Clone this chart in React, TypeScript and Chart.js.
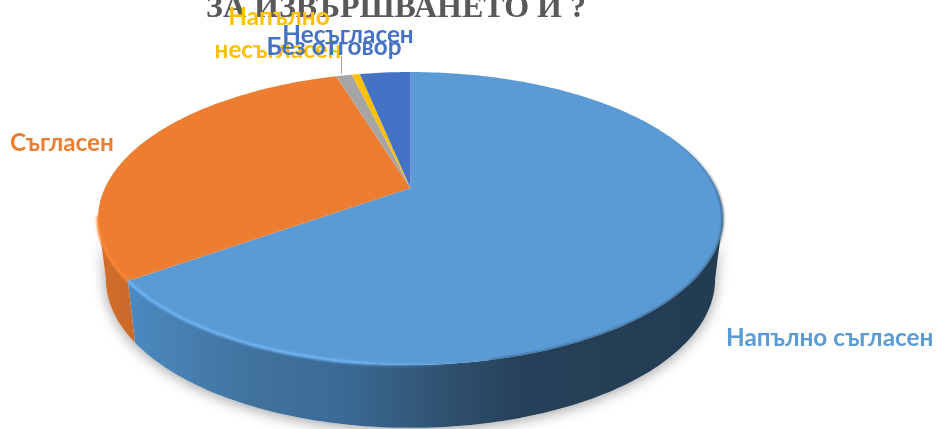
import React, { useEffect, useRef } from "react";
import { Chart, registerables } from "chart.js";

Chart.register(...registerables);

// Survey answers, clockwise from twelve o'clock
const categories = ["Напълно съгласен", "Съгласен", "Без отговор", "Напълно несъгласен", "Несъгласен"];
const shares = [65.1, 30.2, 1.0, 0.5, 3.2];
const sliceColors = ["#5B9BD5", "#ED7D31", "#A5A5A5", "#FFC000", "#4472C4"];
const titleText = "ЗА ИЗВЪРШВАНЕТО И ?";

const WIDTH = 936;
const HEIGHT = 429;
const RADIUS = 305.6;
const TILT = 0.4584; // vertical squash of the disc
const PERSPECTIVE = 0.208; // how much the near edge swells
const WALL = 60;
const WALL_NARROW = 0.975;
const LABEL_FONT = "bold 24.3px Lato, Carlito, 'Open Sans', sans-serif";

const rad = (d: number) => (d * Math.PI) / 180;

function project(el: any, theta: number, r = 1) {
  const u = r * Math.cos(theta);
  const v = r * Math.sin(theta);
  const w = 1 - PERSPECTIVE * v;
  return { x: el.x + (RADIUS * u) / w, y: el.y + (RADIUS * TILT * v) / w };
}

function projectBase(el: any, theta: number) {
  const p = project(el, theta);
  return {
    x: el.x + (p.x - el.x) * WALL_NARROW,
    y: p.y + WALL + 3 * Math.sin(theta),
  };
}

function traceRim(ctx: CanvasRenderingContext2D, el: any, a: number, b: number, base = false, move = false) {
  const steps = Math.max(2, Math.ceil(Math.abs(b - a) / rad(1)));
  for (let i = 0; i <= steps; i++) {
    const t = a + ((b - a) * i) / steps;
    const p = base ? projectBase(el, t) : project(el, t);
    if (i === 0 && move) ctx.moveTo(p.x, p.y);
    else ctx.lineTo(p.x, p.y);
  }
}

const tiltedPie = {
  id: "tiltedPie",
  beforeDatasetsDraw(chart: any) {
    const ctx: CanvasRenderingContext2D = chart.ctx;
    const arcs = chart.getDatasetMeta(0).data;
    const first = arcs[0];
    const thetaR = Math.asin(PERSPECTIVE);
    const thetaL = Math.PI - thetaR;

    // soft ground shadow under the disc
    ctx.save();
    ctx.shadowColor = "rgba(0,0,0,0.38)";
    ctx.shadowBlur = 14;
    ctx.shadowOffsetY = 2;
    ctx.shadowOffsetX = 0;
    ctx.fillStyle = "#fff";
    ctx.beginPath();
    traceRim(ctx, first, thetaR, thetaL, true, true);
    traceRim(ctx, first, thetaL, thetaR, false);
    ctx.closePath();
    ctx.fill();
    ctx.restore();

    // side wall of each slice facing the viewer
    const blueWall = ctx.createLinearGradient(132, 0, 720, 0);
    blueWall.addColorStop(0, "#4c89bf");
    blueWall.addColorStop(0.2, "#41739f");
    blueWall.addColorStop(0.36, "#3a6a95");
    blueWall.addColorStop(0.5, "#325676");
    blueWall.addColorStop(0.66, "#264159");
    blueWall.addColorStop(1, "#223c52");
    const orangeWall = ctx.createLinearGradient(98, 0, 136, 0);
    orangeWall.addColorStop(0, "#d26e2c");
    orangeWall.addColorStop(1, "#c9692a");
    const wallFills = [blueWall, orangeWall];

    arcs.forEach((arc: any, i: number) => {
      const from = arc.startAngle;
      const to = arc.endAngle;
      const a = Math.max(from, thetaR);
      const b = Math.min(to, thetaL);
      if (b <= a) return;
      ctx.beginPath();
      traceRim(ctx, arc, a, b, false, true);
      traceRim(ctx, arc, b, a, true);
      ctx.closePath();
      ctx.fillStyle = wallFills[i] ?? sliceColors[i];
      ctx.fill();
    });

    // top face of the slices
    arcs.forEach((arc: any) => {
      ctx.beginPath();
      ctx.moveTo(arc.x, arc.y);
      traceRim(ctx, arc, arc.startAngle, arc.endAngle);
      ctx.closePath();
      ctx.fillStyle = arc.options.backgroundColor;
      ctx.fill();
    });

    // lit bevel along the near-left edge
    const boundary = arcs[0].endAngle;
    ctx.save();
    ctx.filter = "blur(1px)";
    ctx.lineCap = "butt";
    const blueGlow = ctx.createLinearGradient(132, 0, 460, 0);
    blueGlow.addColorStop(0, "#6db4f4");
    blueGlow.addColorStop(0.65, "#70b5f5");
    blueGlow.addColorStop(1, "rgba(112,181,245,0)");
    ctx.strokeStyle = blueGlow;
    ctx.lineWidth = 3;
    ctx.beginPath();
    traceRim(ctx, first, rad(80), boundary, false, true);
    ctx.stroke();
    ctx.strokeStyle = "#fb8733";
    ctx.beginPath();
    traceRim(ctx, arcs[1], boundary, rad(169), false, true);
    ctx.stroke();

    // shaded edge on the far-right side
    const shade = ctx.createLinearGradient(0, 130, 0, 365);
    shade.addColorStop(0, "rgba(35,60,82,0)");
    shade.addColorStop(0.35, "rgba(35,60,82,0.75)");
    shade.addColorStop(1, "rgba(35,60,82,0.55)");
    ctx.strokeStyle = shade;
    ctx.lineWidth = 2;
    ctx.beginPath();
    traceRim(ctx, first, rad(-35), rad(78), false, true);
    ctx.stroke();
    ctx.restore();

    // the slices are painted above, so the stock arc drawing is skipped
    return false;
  },
  afterDraw(chart: any) {
    const ctx: CanvasRenderingContext2D = chart.ctx;
    ctx.save();

    ctx.font = "bold 32px 'Liberation Serif', serif";
    ctx.fillStyle = "#595959";
    ctx.textAlign = "center";
    ctx.textBaseline = "alphabetic";
    ctx.fillText(titleText, 396, 17);

    // leader from the label to the grey slice
    ctx.strokeStyle = "#A5A5A5";
    ctx.lineWidth = 1;
    ctx.beginPath();
    ctx.moveTo(341.5, 56);
    ctx.lineTo(341.5, 74);
    ctx.stroke();

    ctx.font = LABEL_FONT;
    ctx.textAlign = "left";
    ctx.fillStyle = sliceColors[0];
    ctx.fillText(categories[0], 726, 346);
    ctx.fillStyle = sliceColors[1];
    ctx.fillText(categories[1], 10, 151);
    ctx.textAlign = "center";
    const [wordA, wordB] = categories[3].split(" ");
    ctx.fillStyle = sliceColors[3];
    ctx.fillText(wordA, 279, 25);
    ctx.fillText(wordB, 278, 58);
    ctx.fillStyle = sliceColors[4];
    ctx.fillText(categories[4], 348, 43);
    ctx.fillText(categories[2], 334, 55);
    ctx.restore();
  },
};

export default function App() {
  const ref = useRef<HTMLCanvasElement>(null);

  useEffect(() => {
    document.body.style.margin = "0";
    const chart = new Chart(ref.current!, {
      type: "pie",
      data: {
        labels: categories,
        datasets: [
          {
            data: shares,
            backgroundColor: sliceColors,
            borderWidth: 0,
            radius: RADIUS,
            clip: false,
          } as any,
        ],
      },
      options: {
        responsive: false,
        animation: false,
        devicePixelRatio: 1,
        layout: { padding: { left: 0, right: 115, top: 0, bottom: 53 } },
        plugins: { legend: { display: false }, tooltip: { enabled: false }, title: { display: false } },
      },
      plugins: [tiltedPie],
    });
    return () => chart.destroy();
  }, []);

  return <canvas ref={ref} width={WIDTH} height={HEIGHT} style={{ display: "block" }} />;
}
